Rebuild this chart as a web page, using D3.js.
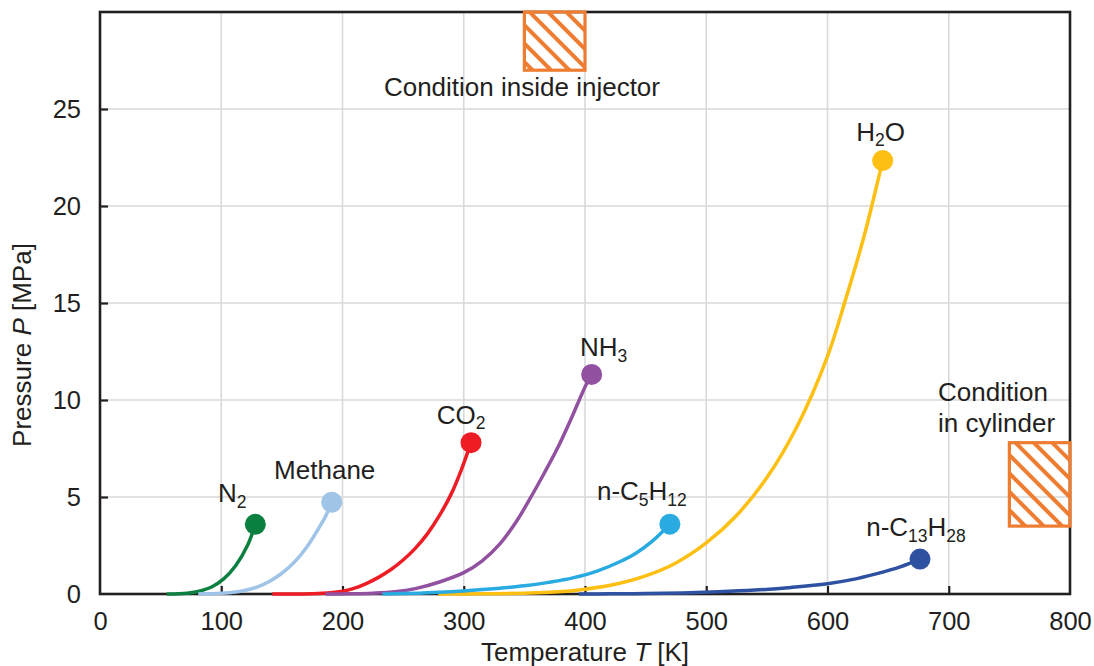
<!DOCTYPE html>
<html>
<head>
<meta charset="utf-8">
<script src="https://cdn.jsdelivr.net/npm/d3@7"></script>
<style>
  html, body { margin: 0; padding: 0; background: #ffffff; }
  svg { display: block; font-family: "Liberation Sans", Arial, Helvetica, sans-serif; }
</style>
</head>
<body>
<svg id="chart" width="1094" height="666"></svg>
<script>
// Saturation (vapour-pressure) curves, temperature T in K and pressure P in MPa.
// The last point of each curve is the critical point.
const N2_T = [55, 65, 72, 79, 85, 92, 102, 112, 122, 128.1];
const N2_P = [0.0, 0.012, 0.039, 0.1, 0.2, 0.36, 0.78, 1.47, 2.55, 3.59];

const CH4_T = [81, 90, 100, 112, 120, 130, 140, 150, 160, 170, 180, 186, 191.1];
const CH4_P = [0.0, 0.012, 0.034, 0.1, 0.19, 0.37, 0.66, 1.07, 1.62, 2.37, 3.35, 4.0, 4.73];

const CO2_T = [142, 160, 175, 190, 200, 210, 220, 230, 240, 250, 260, 270, 280, 290, 298, 306];
const CO2_P = [0.0, 0.004, 0.015, 0.06, 0.14, 0.3, 0.55, 0.87, 1.26, 1.75, 2.35, 3.1, 4.05, 5.2, 6.4, 7.8];

const NH3_T = [186, 205, 225, 245, 261, 280, 300, 315, 330, 343, 355, 367, 378, 388, 397, 401, 405.5];
const NH3_P = [0.0, 0.01, 0.04, 0.13, 0.29, 0.62, 1.1, 1.7, 2.6, 3.7, 4.95, 6.3, 7.6, 8.95, 10.25, 10.8, 11.32];

const C5H12_T = [233, 250, 270, 290, 310, 330, 350, 370, 390, 410, 430, 442, 455, 470];
const C5H12_P = [0.0, 0.02, 0.06, 0.12, 0.2, 0.3, 0.42, 0.6, 0.83, 1.18, 1.7, 2.1, 2.7, 3.6];

const H2O_T = [279, 300, 325, 350, 375, 400, 425, 450, 475, 500, 525, 550, 575, 600, 615, 630, 640, 645.5];
const H2O_P = [0.0, 0.004, 0.013, 0.042, 0.1, 0.25, 0.5, 0.93, 1.6, 2.63, 4.05, 6.0, 8.65, 12.25, 15.2, 18.4, 20.9, 22.34];

const C13H28_T = [395, 420, 450, 480, 510, 540, 570, 600, 620, 640, 660, 676.3];
const C13H28_P = [0.0, 0.01, 0.025, 0.05, 0.11, 0.2, 0.34, 0.53, 0.74, 1.04, 1.4, 1.8];

// Species names ("_" marks a subscript character) in drawing order
const speciesNames = ["N_2", "Methane", "CO_2", "NH_3", "H_2O", "n-C_5H_1_2", "n-C_1_3H_2_8"];
const speciesT = [N2_T, CH4_T, CO2_T, NH3_T, H2O_T, C5H12_T, C13H28_T];
const speciesP = [N2_P, CH4_P, CO2_P, NH3_P, H2O_P, C5H12_P, C13H28_P];

// Operating regions [Tmin, Tmax] and [Pmin, Pmax]
const regionNames = ["Condition inside injector", "Condition|in cylinder"];
const regionT = [[350, 400], [750, 800]];
const regionP = [[27, 30], [3.5, 7.8]];

// Axis ticks
const xTicks = [0, 100, 200, 300, 400, 500, 600, 700, 800];
const yTicks = [0, 5, 10, 15, 20, 25];

// ---- styling -----------------------------------------------------------
const colors = ["#0c8040", "#9fc4e7", "#ee1c25", "#9150a0", "#fdbf12", "#29abe2", "#2e51a2"];
// label offset from the critical-point dot (px): [dx, dy of baseline]
const labelOffsets = [[-23, -22], [-7, -23], [-10, -19], [12, -18], [-2, -20], [-28, -24], [-4, -23]];
const ink = "#231f20";
const hatchColor = "#ee7d31";
const fontSize = 26;
const tickFontSize = 25.5;

const W = 1094, H = 666;
const margin = { left: 100, right: 24, top: 12, bottom: 72 };

const svg = d3.select("#chart");
const x = d3.scaleLinear().domain([0, 800]).range([margin.left, W - margin.right]);
const y = d3.scaleLinear().domain([0, 30]).range([H - margin.bottom, margin.top]);

// hatch pattern
const defs = svg.append("defs");
const pat = defs.append("pattern")
  .attr("id", "hatch")
  .attr("patternUnits", "userSpaceOnUse")
  .attr("width", 13).attr("height", 13)
  .attr("patternTransform", "rotate(-45)");
pat.append("rect").attr("x", 0).attr("y", 0).attr("width", 4).attr("height", 13).attr("fill", hatchColor);

// grid
const grid = svg.append("g");
grid.selectAll("line.v").data(xTicks.slice(1, -1)).join("line")
  .attr("x1", d => x(d)).attr("x2", d => x(d))
  .attr("y1", y(30)).attr("y2", y(0))
  .attr("stroke", "#d9d9d9").attr("stroke-width", 1.6);
grid.selectAll("line.h").data(yTicks.slice(1)).join("line")
  .attr("x1", x(0)).attr("x2", x(800))
  .attr("y1", d => y(d)).attr("y2", d => y(d))
  .attr("stroke", "#d9d9d9").attr("stroke-width", 1.6);

// frame
svg.append("rect")
  .attr("x", x(0)).attr("y", y(30))
  .attr("width", x(800) - x(0)).attr("height", y(0) - y(30))
  .attr("fill", "none").attr("stroke", ink).attr("stroke-width", 2.6);

// axes
const xAxis = d3.axisBottom(x).tickValues(xTicks).tickSizeInner(-8).tickSizeOuter(0).tickPadding(18);
const yAxis = d3.axisLeft(y).tickValues(yTicks).tickSizeInner(-8).tickSizeOuter(0).tickPadding(19);

const gx = svg.append("g").attr("transform", `translate(0,${y(0)})`).call(xAxis);
const gy = svg.append("g").attr("transform", `translate(${x(0)},0)`).call(yAxis);
[gx, gy].forEach(g => {
  g.select(".domain").remove();
  g.selectAll(".tick line").attr("stroke", ink).attr("stroke-width", 2.2);
  g.selectAll(".tick text").attr("fill", ink).style("font-size", tickFontSize + "px")
    .style("font-family", "'Liberation Sans', Arial, sans-serif");
});
gx.selectAll(".tick line").filter(d => d === 0 || d === 800).remove();
gy.selectAll(".tick line").filter(d => d === 0).remove();

// axis titles
const xt = svg.append("text")
  .attr("x", (x(0) + x(800)) / 2).attr("y", 661)
  .attr("text-anchor", "middle").attr("fill", ink).style("font-size", fontSize + "px");
xt.append("tspan").text("Temperature ");
xt.append("tspan").style("font-style", "italic").text("T");
xt.append("tspan").text(" [K]");

const yt = svg.append("text")
  .attr("transform", `translate(31,${345}) rotate(-90)`)
  .attr("text-anchor", "middle").attr("fill", ink).style("font-size", fontSize + "px");
yt.append("tspan").text("Pressure ");
yt.append("tspan").style("font-style", "italic").text("P");
yt.append("tspan").text(" [MPa]");

// curves
const line = d3.line()
  .x(d => x(d[0])).y(d => y(d[1]))
  .curve(d3.curveCatmullRom.alpha(0.5));

const series = speciesNames.map((name, i) => ({
  name,
  color: colors[i],
  pts: speciesT[i].map((t, j) => [t, speciesP[i][j]])
}));

const gc = svg.append("g");
series.forEach(s => {
  gc.append("path")
    .attr("d", line(s.pts))
    .attr("fill", "none").attr("stroke", s.color)
    .attr("stroke-width", 3.5).attr("stroke-linecap", "butt");
});
series.forEach(s => {
  const c = s.pts[s.pts.length - 1];
  gc.append("circle")
    .attr("cx", x(c[0])).attr("cy", y(c[1])).attr("r", 10.5)
    .attr("fill", s.color);
});

// subscripted labels
function richLabel(g, str, cx, cy) {
  const t = g.append("text")
    .attr("x", cx).attr("y", cy)
    .attr("text-anchor", "middle").attr("fill", ink)
    .style("font-size", fontSize + "px");
  let shifted = false;
  for (let k = 0; k < str.length; k++) {
    let ch = str[k];
    let sub = false;
    if (ch === "_") { sub = true; ch = str[++k]; }
    const ts = t.append("tspan").text(ch);
    if (sub) {
      ts.style("font-size", "17.5px");
      if (!shifted) { ts.attr("dy", 5.5); shifted = true; }
    } else if (shifted) {
      ts.attr("dy", -5.5); shifted = false;
    }
  }
  return t;
}

const gl = svg.append("g");
series.forEach((s, i) => {
  const c = s.pts[s.pts.length - 1];
  richLabel(gl, s.name, x(c[0]) + labelOffsets[i][0], y(c[1]) + labelOffsets[i][1]);
});

// operating regions
const gr = svg.append("g");
regionNames.forEach((name, i) => {
  gr.append("rect")
    .attr("x", x(regionT[i][0])).attr("y", y(regionP[i][1]))
    .attr("width", x(regionT[i][1]) - x(regionT[i][0]))
    .attr("height", y(regionP[i][0]) - y(regionP[i][1]))
    .attr("fill", "url(#hatch)")
    .attr("stroke", hatchColor).attr("stroke-width", 3.2);
});

// region captions
svg.append("text")
  .attr("x", x(348)).attr("y", 96)
  .attr("text-anchor", "middle").attr("fill", ink).style("font-size", fontSize + "px")
  .text(regionNames[0]);
regionNames[1].split("|").forEach((ln, k) => {
  svg.append("text")
    .attr("x", 938).attr("y", 401 + k * 31)
    .attr("text-anchor", "start").attr("fill", ink).style("font-size", fontSize + "px")
    .text(ln);
});
</script>
</body>
</html>
